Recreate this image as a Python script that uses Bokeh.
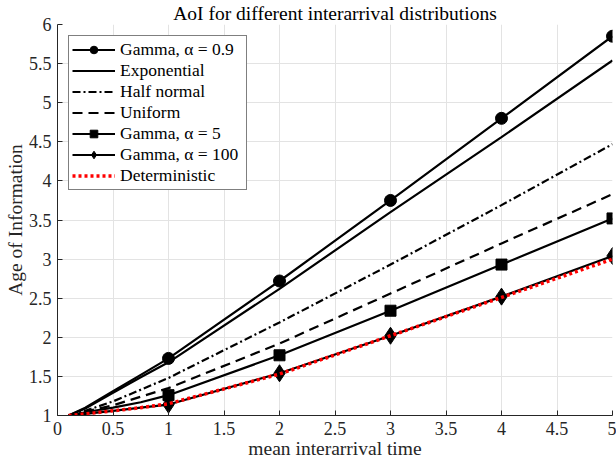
from bokeh.plotting import figure
from bokeh.models import Legend, LegendItem, FixedTicker
from bokeh.embed import file_html
from bokeh.resources import INLINE

# ---- data ----
x = [0.1, 0.25, 0.5, 0.75, 1, 2, 3, 4, 5]
gamma_09 = [1.0, 1.10, 1.31, 1.52, 1.73, 2.72, 3.75, 4.80, 5.85]
exponential = [1.0, 1.09, 1.29, 1.49, 1.68, 2.62, 3.60, 4.56, 5.54]
half_normal = [1.0, 1.06, 1.18, 1.33, 1.48, 2.19, 2.93, 3.69, 4.47]
uniform = [1.0, 1.05, 1.13, 1.24, 1.35, 1.92, 2.56, 3.20, 3.83]
gamma_5 = [1.0, 1.04, 1.10, 1.17, 1.26, 1.77, 2.34, 2.93, 3.52]
gamma_100 = [1.0, 1.02, 1.06, 1.10, 1.14, 1.54, 2.02, 2.52, 3.04]
deterministic = [1.0, 1.02, 1.06, 1.10, 1.15, 1.53, 2.02, 2.51, 3.00]
marker_x = [1, 2, 3, 4, 5]
x_ticks = [0, 0.5, 1, 1.5, 2, 2.5, 3, 3.5, 4, 4.5, 5]
y_ticks = [1, 1.5, 2, 2.5, 3, 3.5, 4, 4.5, 5, 5.5, 6]
title_text = "AoI for different interarrival distributions"
x_label = "mean interarrival time"
y_label = "Age of Information"

FONT = "Liberation Serif"
TXT = "#262626"

p = figure(width=616, height=466, x_range=(0, 5), y_range=(1, 6),
           output_backend="svg", toolbar_location=None,
           min_border_left=57, min_border_right=4, min_border_top=23,
           min_border_bottom=51)
p.outline_line_color = None
p.background_fill_color = "white"
p.border_fill_color = "white"

p.title.text = title_text
p.title.align = "center"
p.title.text_font = FONT
p.title.text_font_size = "19.5px"
p.title.text_font_style = "normal"
p.title.text_color = "black"
p.title.standoff = 1

for ax, ticks in ((p.xaxis, x_ticks), (p.yaxis, y_ticks)):
    ax.ticker = FixedTicker(ticks=ticks)
    ax.major_tick_in = 5
    ax.major_tick_out = 0
    ax.minor_tick_line_color = None
    ax.axis_line_color = TXT
    ax.major_tick_line_color = TXT
    ax.major_label_text_font = FONT
    ax.major_label_text_font_size = "18px"
    ax.major_label_text_color = TXT
    ax.axis_label_text_font = FONT
    ax.axis_label_text_font_size = "19.5px"
    ax.axis_label_text_font_style = "normal"
    ax.axis_label_text_color = TXT

p.xaxis.axis_label = x_label
p.yaxis.axis_label = y_label
p.xaxis.major_label_standoff = 6
p.yaxis.major_label_standoff = 6
p.xaxis.axis_label_standoff = 0
p.yaxis.axis_label_standoff = 0
p.xaxis.major_label_overrides = {0: "0", 1: "1", 2: "2", 3: "3", 4: "4", 5: "5"}
p.yaxis.major_label_overrides = {1: "1", 2: "2", 3: "3", 4: "4", 5: "5", 6: "6"}

p.grid.grid_line_color = "#e3e3e3"
p.grid.grid_line_width = 1

def pick(series):
    return [series[x.index(v)] for v in marker_x]

LW = 2.2
items = []

r1 = p.line(x, gamma_09, line_color="black", line_width=LW)
m1 = p.scatter(marker_x, pick(gamma_09), marker="circle", size=12, color="black")
items.append(LegendItem(label="Gamma, α = 0.9", renderers=[r1, m1]))

r2 = p.line(x, exponential, line_color="black", line_width=LW)
items.append(LegendItem(label="Exponential", renderers=[r2]))

r3 = p.line(x, half_normal, line_color="black", line_width=LW, line_dash="8 3 2 3")
items.append(LegendItem(label="Half normal", renderers=[r3]))

r4 = p.line(x, uniform, line_color="black", line_width=LW, line_dash="10 6")
items.append(LegendItem(label="Uniform", renderers=[r4]))

r5 = p.line(x, gamma_5, line_color="black", line_width=LW)
m5 = p.scatter(marker_x, pick(gamma_5), marker="square", size=11, color="black")
items.append(LegendItem(label="Gamma, α = 5", renderers=[r5, m5]))

r6 = p.line(x, gamma_100, line_color="black", line_width=LW)
m6 = p.scatter(marker_x, pick(gamma_100), marker="diamond", size=17, color="black")
items.append(LegendItem(label="Gamma, α = 100", renderers=[r6, m6]))

r7 = p.line(x, deterministic, line_color="red", line_width=3.5, line_dash="3 3")
items.append(LegendItem(label="Deterministic", renderers=[r7]))

legend = Legend(items=items, location="top_left")
legend.margin = 11
legend.padding = 3
legend.spacing = 0
legend.glyph_width = 43
legend.glyph_height = 19
legend.label_height = 19
legend.label_width = 123
legend.label_standoff = 5
legend.label_text_font = FONT
legend.label_text_font_size = "17.5px"
legend.label_text_color = "black"
legend.border_line_color = "black"
legend.border_line_width = 1
legend.background_fill_color = "white"
legend.background_fill_alpha = 1
p.add_layout(legend, "center")

open("out.html", "w").write(file_html(p, INLINE))
